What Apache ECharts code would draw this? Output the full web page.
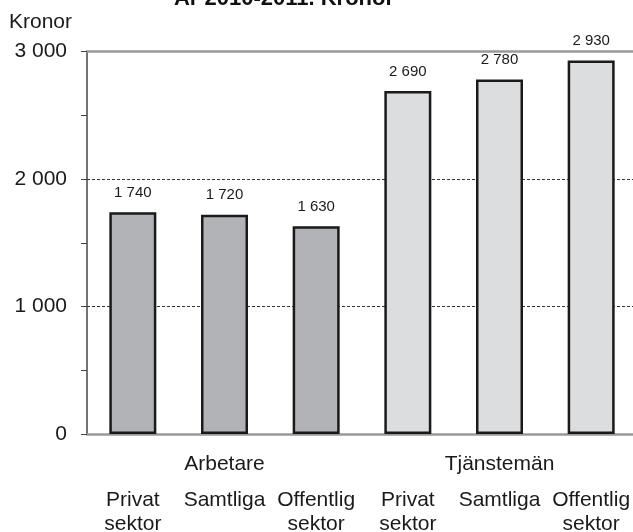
<!doctype html>
<html>
<head>
<meta charset="utf-8">
<script src="https://cdn.jsdelivr.net/npm/echarts@6/dist/echarts.min.js"></script>
<style>
html, body { margin: 0; padding: 0; background: #fff; }
#chart { width: 633px; height: 532px; }
</style>
</head>
<body>
<div id="chart"></div>
<script>
// data
var categories = ['Privat\nsektor', 'Samtliga', 'Offentlig\nsektor', 'Privat\nsektor', 'Samtliga', 'Offentlig\nsektor']
var groups = ['Arbetare', 'Tjänstemän']
var values = [1740, 1720, 1630, 2690, 2780, 2930]
var barColors = ['#b2b3b6', '#b2b3b6', '#b2b3b6', '#dcdddf', '#dcdddf', '#dcdddf']

function fmt(v) {
	return String(v).replace(/\B(?=(\d{3})+(?!\d))/g, ' ')
}

var font = 'Liberation Sans, Arial, sans-serif'

var barData = values.map(function(v, i) {
	return { value: v, itemStyle: { color: barColors[i] } }
})

var chart = echarts.init(document.getElementById('chart'))

var option = {
	animation: false,
	textStyle: { fontFamily: font },
	title: {
		text: 'År 2010-2011. Kronor',
		left: 279,
		textAlign: 'center',
		top: -17,
		textStyle: { fontFamily: font, fontSize: 22, fontWeight: 'bold', color: '#111' }
	},
	grid: { left: 87, right: -4, top: 51.5, bottom: 98, containLabel: false, outerBoundsMode: 'none' },
	xAxis: [
		{
			type: 'category',
			data: categories,
			position: 'bottom',
			axisLine: { lineStyle: { color: '#999', width: 2.5 } },
			axisTick: { show: false },
			axisLabel: { interval: 0, margin: 54, fontSize: 21, lineHeight: 24, color: '#1a1a1a', fontFamily: font }
		},
		{
			type: 'category',
			data: groups,
			position: 'bottom',
			axisLine: { show: false },
			axisTick: { show: false },
			axisLabel: { interval: 0, margin: 20, fontSize: 21, color: '#1a1a1a', fontFamily: font }
		},
		{
			type: 'category',
			data: categories,
			position: 'top',
			axisLine: { lineStyle: { color: '#999', width: 2.5 } },
			axisTick: { show: false },
			axisLabel: { show: false }
		}
	],
	yAxis: {
		type: 'value',
		min: 0,
		max: 3000,
		interval: 1000,
		name: 'Kronor',
		nameLocation: 'end',
		nameGap: 29,
		nameTextStyle: { align: 'right', verticalAlign: 'middle', padding: [0, 15, 0, 0], fontSize: 21, color: '#1a1a1a', fontFamily: font },
		axisLine: { show: true, lineStyle: { color: '#444', width: 1.5 } },
		axisTick: { show: true, length: 6, lineStyle: { color: '#444' } },
		minorTick: { show: true, splitNumber: 2, length: 6, lineStyle: { color: '#444' } },
		axisLabel: { formatter: fmt, fontSize: 21, margin: 20, color: '#1a1a1a', fontFamily: font },
		splitLine: { show: true, lineStyle: { color: '#333', width: 1, type: [3, 2] } }
	},
	series: [
		{
			type: 'bar',
			xAxisIndex: 0,
			data: barData,
			barWidth: 47,
			itemStyle: { borderColor: '#1a1a1a', borderWidth: 2.5 },
			label: {
				show: true,
				position: 'top',
				distance: 12,
				formatter: function(p) { return fmt(p.value) },
				fontSize: 15,
				color: '#1a1a1a',
				fontFamily: font
			}
		}
	]
}

chart.setOption(option)
</script>
</body>
</html>
